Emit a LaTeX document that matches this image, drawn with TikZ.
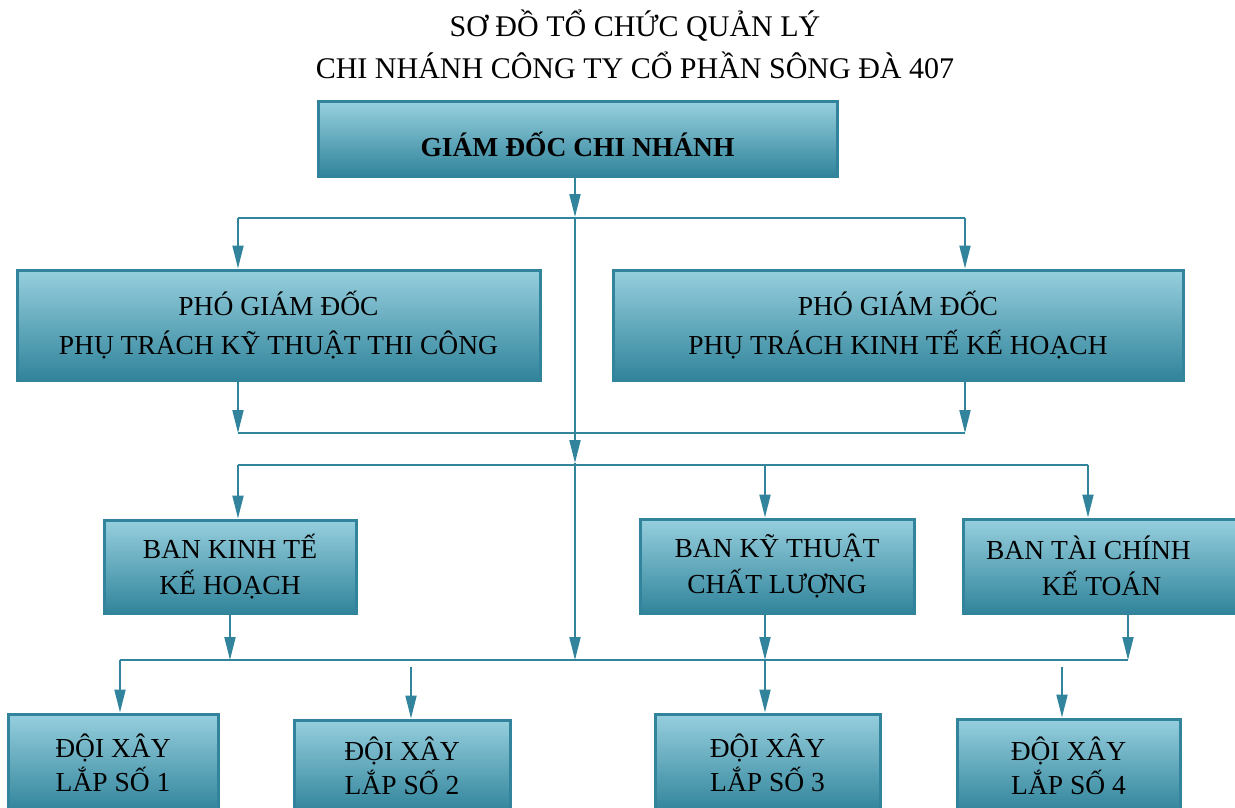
\documentclass[tikz,border=0pt]{standalone}
\usepackage{fontspec}
\setmainfont{Liberation Serif}
\usetikzlibrary{arrows.meta}
\definecolor{orgline}{RGB}{49,132,155}
\definecolor{boxtop}{RGB}{150,207,222}
\definecolor{boxmid}{RGB}{118,178,196}
\definecolor{boxbot}{RGB}{49,132,155}
\tikzset{
  orgbox/.style={draw=orgline, line width=3pt, rectangle, inner sep=0pt,
    top color=boxtop, middle color=boxmid, bottom color=boxbot,
    align=center, text=black, font=\fontsize{27.5}{37}\selectfont},
  link/.style={draw=orgline, line width=2pt},
  arr/.style={link, -{Triangle[length=23pt,width=11pt]}},
}
\begin{document}
\begin{tikzpicture}[x=1pt,y=-1pt]
\useasboundingbox (0,0) rectangle (1235,808);
\clip (0,0) rectangle (1235,808);

% heading
\node[align=center, font=\fontsize{30}{42}\selectfont] (title) at (635,44)
  {SƠ ĐỒ TỔ CHỨC QUẢN LÝ\\CHI NHÁNH CÔNG TY CỔ PHẦN SÔNG ĐÀ 407};

% boxes
\node[orgbox, minimum width=519pt, minimum height=74pt, text height=34pt, text depth=0pt,
      font=\bfseries\fontsize{27.5}{37}\selectfont] (gd) at (577.5,139)
  {GIÁM ĐỐC CHI NHÁNH};
\node[orgbox, minimum width=523pt, minimum height=110pt, font=\fontsize{27.5}{39}\selectfont] (pg1) at (278.5,325)
  {PHÓ GIÁM ĐỐC\\PHỤ TRÁCH KỸ THUẬT THI CÔNG};
\node[orgbox, minimum width=570pt, minimum height=110pt, font=\fontsize{27.5}{39}\selectfont] (pg2) at (898,325)
  {PHÓ GIÁM ĐỐC\\PHỤ TRÁCH KINH TẾ KẾ HOẠCH};
\node[orgbox, minimum width=252pt, minimum height=93pt, font=\fontsize{27.5}{36}\selectfont] (bkt) at (230,566.5)
  {BAN KINH TẾ\\KẾ HOẠCH};
\node[orgbox, minimum width=274pt, minimum height=94pt, font=\fontsize{27.5}{36}\selectfont] (bkc) at (777,566)
  {BAN KỸ THUẬT\\CHẤT LƯỢNG};
\node[orgbox, minimum width=277pt, minimum height=94pt, font=\fontsize{27.5}{36}\selectfont] (btc) at (1101.5,566)
  {BAN TÀI CHÍNH\hspace*{26pt}\\KẾ TOÁN};
\node[orgbox, minimum width=210pt, minimum height=98pt, font=\fontsize{27.5}{34}\selectfont] (dx1) at (113,763)
  {ĐỘI XÂY\\LẮP SỐ 1};
\node[orgbox, minimum width=216pt, minimum height=92pt, font=\fontsize{27.5}{34}\selectfont] (dx2) at (402,766)
  {ĐỘI XÂY\\LẮP SỐ 2};
\node[orgbox, minimum width=225pt, minimum height=98pt, font=\fontsize{27.5}{34}\selectfont] (dx3) at (767.5,763)
  {ĐỘI XÂY\\LẮP SỐ 3};
\node[orgbox, minimum width=223pt, minimum height=93pt, font=\fontsize{27.5}{34}\selectfont] (dx4) at (1068.5,765.5)
  {ĐỘI XÂY\\LẮP SỐ 4};

% junction points
\coordinate (c1) at (575,217);
\coordinate (c2) at (575,463);
\coordinate (c3) at (575,660);
\coordinate (a1) at (238,218);
\coordinate (a2) at (965,218);
\coordinate (m1) at (238,433);
\coordinate (m2) at (965,433);
\coordinate (b1) at (238,465);
\coordinate (b2) at (765,465);
\coordinate (b3) at (1088,465);
\coordinate (d0) at (120,660);
\coordinate (d1) at (230,660);
\coordinate (d2) at (765,660);
\coordinate (d3) at (1128,660);
\coordinate (e2) at (411,667);
\coordinate (e4) at (1062,667);

% director down the central spine
\draw[arr] (c1 |- gd.south) -- (c1);
\draw[arr] (c1) -- (c2);
\draw[arr] (c2) -- (c3);

% deputies
\draw[link] (a1) -- (a2);
\draw[arr] (a1) -- (a1 |- pg1.north);
\draw[arr] (a2) -- (a2 |- pg2.north);
\draw[arr] (m1 |- pg1.south) -- (m1);
\draw[arr] (m2 |- pg2.south) -- (m2);
\draw[link] (m1) -- (m2);

% departments
\draw[link] (b1) -- (b3);
\draw[arr] (b1) -- (b1 |- bkt.north);
\draw[arr] (b2) -- (b2 |- bkc.north);
\draw[arr] (b3) -- (b3 |- btc.north);
\draw[arr] (d1 |- bkt.south) -- (d1);
\draw[arr] (d2 |- bkc.south) -- (d2);
\draw[arr] (d3 |- btc.south) -- (d3);

% construction teams
\draw[link] (d0) -- (d3);
\draw[arr] (d0) -- (d0 |- dx1.north);
\draw[arr] (e2) -- (e2 |- dx2.north);
\draw[arr] (d2) -- (d2 |- dx3.north);
\draw[arr] (e4) -- (e4 |- dx4.north);
\end{tikzpicture}
\end{document}
